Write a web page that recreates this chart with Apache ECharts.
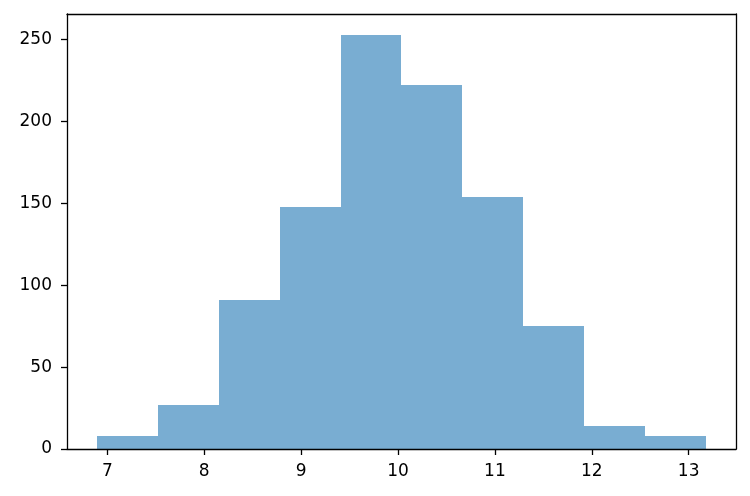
<!DOCTYPE html>
<html>
<head>
<meta charset="utf-8">
<script src="https://cdn.jsdelivr.net/npm/echarts@6/dist/echarts.min.js"></script>
<style>html,body{margin:0;padding:0;background:#fff}#c{width:750px;height:496px}</style>
</head>
<body>
<div id="c"></div>
<script>
const binEdges = [6.897, 7.525, 8.153, 8.781, 9.408, 10.036, 10.664, 11.292, 11.920, 12.548, 13.175];
const counts = [8, 27, 91, 148, 253, 222, 154, 75, 14, 8];
const xTicks = [7, 8, 9, 10, 11, 12, 13];
const yTicks = [0, 50, 100, 150, 200, 250];

const xSpan = binEdges[binEdges.length - 1] - binEdges[0];
const xMin = binEdges[0] - 0.05 * xSpan;
const xMax = binEdges[binEdges.length - 1] + 0.05 * xSpan;
const yMax = Math.max(...counts) * 1.05;

const data = counts.map((c, i) => [binEdges[i], binEdges[i + 1], c]);

const font = {fontFamily: 'DejaVu Sans', fontSize: 17, color: '#000'};
const lineStyle = {color: '#000', width: 1.3};

const chart = echarts.init(document.getElementById('c'), null, {renderer: 'canvas'});
chart.setOption({
  animation: false,
  grid: {left: 67, right: 14, top: 14, bottom: 47},
  xAxis: [{
    type: 'value', min: xMin, max: xMax, z: 10,
    splitLine: {show: false},
    axisLine: {show: true, onZero: false, lineStyle},
    axisTick: {show: true, length: 6, lineStyle, customValues: xTicks},
    axisLabel: {...font, margin: 14, customValues: xTicks}
  }, {
    type: 'value', position: 'top', min: xMin, max: xMax, z: 10,
    splitLine: {show: false},
    axisLine: {show: true, onZero: false, lineStyle},
    axisTick: {show: false}, axisLabel: {show: false}
  }],
  yAxis: [{
    type: 'value', min: 0, max: yMax, z: 10,
    splitLine: {show: false},
    axisLine: {show: true, onZero: false, lineStyle},
    axisTick: {show: true, length: 6, lineStyle, customValues: yTicks},
    axisLabel: {...font, margin: 15, customValues: yTicks}
  }, {
    type: 'value', position: 'right', min: 0, max: yMax, z: 10,
    splitLine: {show: false},
    axisLine: {show: true, onZero: false, lineStyle},
    axisTick: {show: false}, axisLabel: {show: false}
  }],
  series: [{
    type: 'custom',
    xAxisIndex: 0, yAxisIndex: 0,
    data: data,
    encode: {x: [0, 1], y: 2},
    renderItem: function (params, api) {
      const p0 = api.coord([api.value(0), 0]);
      const p1 = api.coord([api.value(1), api.value(2)]);
      const x0 = Math.round(p0[0]);
      const x1 = Math.round(p1[0]);
      const yTop = Math.round(p1[1]);
      const yBot = Math.round(p0[1]);
      return {
        type: 'rect',
        shape: {x: x0, y: yTop, width: x1 - x0, height: yBot - yTop},
        style: {fill: 'rgba(31,119,180,0.6)'}
      };
    }
  }]
});
</script>
</body>
</html>
